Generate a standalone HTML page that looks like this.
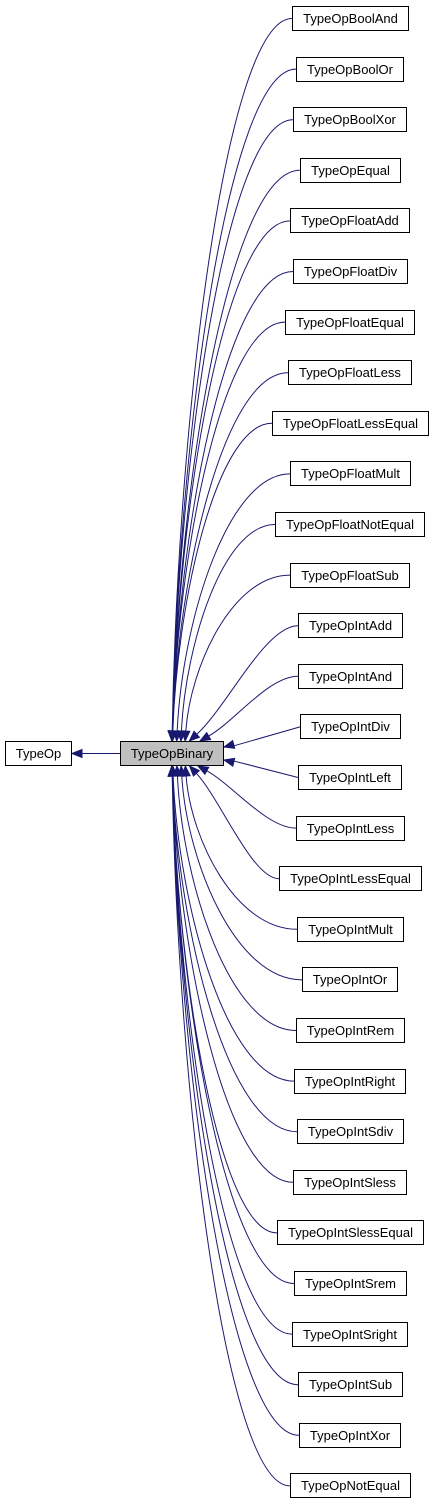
<!DOCTYPE html>
<html><head><meta charset="utf-8"><style>
html,body{margin:0;padding:0;background:#fff;}
body{width:435px;height:1507px;position:relative;overflow:hidden;font-family:"Liberation Sans",Arial,sans-serif;font-size:13px;}
.n{position:absolute;height:23px;line-height:23px;border:1px solid #000;background:#fff;text-align:center;box-sizing:content-box;white-space:nowrap;}
svg{position:absolute;left:0;top:0;}
</style></head><body>
<svg id="s" width="435" height="1507"></svg>
<div class="n" style="left:5px;top:741px;width:65px;">TypeOp</div>
<div class="n" style="left:120px;top:741px;width:102px;background:#bfbfbf;">TypeOpBinary</div>
<div id="c"></div>
<script>
var names=["TypeOpBoolAnd","TypeOpBoolOr","TypeOpBoolXor","TypeOpEqual","TypeOpFloatAdd","TypeOpFloatDiv","TypeOpFloatEqual","TypeOpFloatLess","TypeOpFloatLessEqual","TypeOpFloatMult","TypeOpFloatNotEqual","TypeOpFloatSub","TypeOpIntAdd","TypeOpIntAnd","TypeOpIntDiv","TypeOpIntLeft","TypeOpIntLess","TypeOpIntLessEqual","TypeOpIntMult","TypeOpIntOr","TypeOpIntRem","TypeOpIntRight","TypeOpIntSdiv","TypeOpIntSless","TypeOpIntSlessEqual","TypeOpIntSrem","TypeOpIntSright","TypeOpIntSub","TypeOpIntXor","TypeOpNotEqual"];
var c=document.getElementById('c'),s=document.getElementById('s');
var cv=document.createElement('canvas').getContext('2d');cv.font='13px "Liberation Sans", Arial, sans-serif';
var P='',A='';
function arrow(x,y,dx,dy){var l=Math.hypot(dx,dy);dx/=l;dy/=l;var L=10,W=4;
var bx=x-dx*L,by=y-dy*L;A+='<polygon points="'+x+','+y+' '+(bx-dy*W)+','+(by+dx*W)+' '+(bx+dy*W)+','+(by-dx*W)+'" fill="#191970" stroke="#191970"/>';}
names.forEach(function(nm,i){
 var top=6+i*50.6, cy=top+12.5;
 var w=Math.round(cv.measureText(nm).width)+22;
 var left=Math.round(350-w/2);
 var d=document.createElement('div');d.className='n';d.style.left=left+'px';d.style.top=Math.round(top)+'px';d.style.width=(w-2)+'px';d.textContent=nm;c.appendChild(d);
 var xl=left, dist=cy-753.5;
 if(i==14||i==15){var ey=i==14?747:760;var ex=224;
   P+='M'+xl+','+cy+' L'+(ex+10)+','+(ey+(cy-ey)*0.06);arrow(ex,ey,ex-xl,ey-cy);return;}
 var up=dist<0, ey=up?741:766, ad=Math.abs(dist);
 var ex=172+Math.max(0,28-ad/12);
 if(i==13)ex=200; if(i==16)ex=198;
 var c1x=ex+(xl-ex)*0.45, c2x=ex+(xl-ex)*0.05, c2y=ey+(cy-ey)*0.45;
 if(ad<130){c1x=xl-(xl-ex)*0.3;c2x=ex+(xl-ex)*0.35;c2y=ey+(cy-ey)*0.3;}
 var dx=ex-c2x,dy=ey-c2y,l=Math.hypot(dx,dy),sx=ex-dx/l*10,sy=ey-dy/l*10;
 P+='M'+xl+','+cy+' C'+c1x+','+cy+' '+c2x+','+c2y+' '+sx+','+sy+' ';
 arrow(ex,ey,dx,dy);
});
P+='M120,753.5 L82,753.5 ';arrow(72,753.5,-1,0);
s.innerHTML='<path d="'+P+'" fill="none" stroke="#191970" stroke-width="1"/>'+A;
</script>
</body></html>
